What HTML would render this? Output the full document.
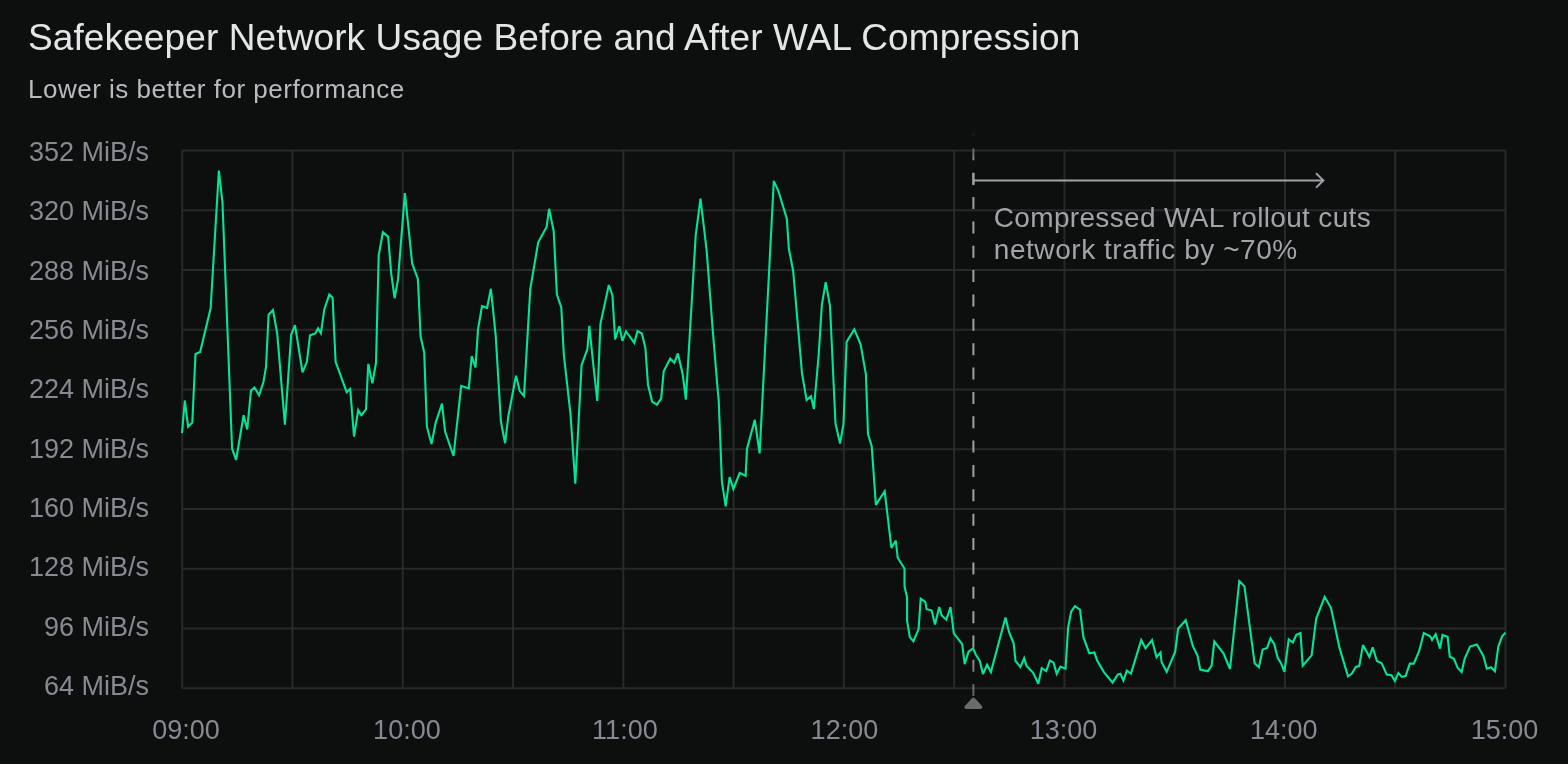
<!DOCTYPE html><html><head><meta charset="utf-8"><style>
html,body{margin:0;padding:0;background:#0d0f0f;width:1568px;height:764px;overflow:hidden}
svg{display:block;will-change:transform}text{font-family:"Liberation Sans", sans-serif}
</style></head><body>
<svg width="1568" height="764" viewBox="0 0 1568 764">
<rect width="1568" height="764" fill="#0d0f0f"/>
<path d="M182.2 150.40H1505.5M182.2 210.16H1505.5M182.2 269.91H1505.5M182.2 329.67H1505.5M182.2 389.42H1505.5M182.2 449.18H1505.5M182.2 508.93H1505.5M182.2 568.69H1505.5M182.2 628.44H1505.5M182.2 688.20H1505.5M182.20 150.4V688.2M292.47 150.4V688.2M402.75 150.4V688.2M513.02 150.4V688.2M623.30 150.4V688.2M733.58 150.4V688.2M843.85 150.4V688.2M954.12 150.4V688.2M1064.40 150.4V688.2M1174.67 150.4V688.2M1284.95 150.4V688.2M1395.22 150.4V688.2M1505.50 150.4V688.2" stroke="#28292b" stroke-width="2" fill="none"/>
<text x="28" y="50" font-size="37" letter-spacing="0.11" fill="#e4e5e7">Safekeeper Network Usage Before and After WAL Compression</text>
<text x="28" y="98" font-size="26" letter-spacing="0.5" fill="#babbc0">Lower is better for performance</text>
<text x="149" y="160.8" font-size="27" letter-spacing="0" text-anchor="end" fill="#868a92">352 MiB/s</text>
<text x="149" y="220.1" font-size="27" letter-spacing="0" text-anchor="end" fill="#868a92">320 MiB/s</text>
<text x="149" y="279.5" font-size="27" letter-spacing="0" text-anchor="end" fill="#868a92">288 MiB/s</text>
<text x="149" y="338.8" font-size="27" letter-spacing="0" text-anchor="end" fill="#868a92">256 MiB/s</text>
<text x="149" y="398.2" font-size="27" letter-spacing="0" text-anchor="end" fill="#868a92">224 MiB/s</text>
<text x="149" y="457.5" font-size="27" letter-spacing="0" text-anchor="end" fill="#868a92">192 MiB/s</text>
<text x="149" y="516.8" font-size="27" letter-spacing="0" text-anchor="end" fill="#868a92">160 MiB/s</text>
<text x="149" y="576.2" font-size="27" letter-spacing="0" text-anchor="end" fill="#868a92">128 MiB/s</text>
<text x="149" y="635.5" font-size="27" letter-spacing="0" text-anchor="end" fill="#868a92">96 MiB/s</text>
<text x="149" y="694.9" font-size="27" letter-spacing="0" text-anchor="end" fill="#868a92">64 MiB/s</text>
<text x="186.1" y="738.8" font-size="27" letter-spacing="0" text-anchor="middle" fill="#868a92">09:00</text>
<text x="406.9" y="738.8" font-size="27" letter-spacing="0" text-anchor="middle" fill="#868a92">10:00</text>
<text x="624.9" y="738.8" font-size="27" letter-spacing="0" text-anchor="middle" fill="#868a92">11:00</text>
<text x="844.4" y="738.8" font-size="27" letter-spacing="0" text-anchor="middle" fill="#868a92">12:00</text>
<text x="1063.6" y="738.8" font-size="27" letter-spacing="0" text-anchor="middle" fill="#868a92">13:00</text>
<text x="1283.8" y="738.8" font-size="27" letter-spacing="0" text-anchor="middle" fill="#868a92">14:00</text>
<text x="1504.5" y="738.8" font-size="27" letter-spacing="0" text-anchor="middle" fill="#868a92">15:00</text>
<path d="M182.0 433.0 L184.8 400.5 L188.1 426.7 L192.3 422.5 L195.5 354.0 L200.1 351.9 L210.6 308.6 L218.9 170.5 L222.5 202.9 L232.1 448.7 L236.1 460.0 L243.6 415.2 L247.2 429.4 L251.0 390.5 L254.5 387.5 L259.1 395.3 L263.5 381.7 L266.0 367.0 L268.6 314.7 L273.0 310.0 L277.2 333.5 L284.9 424.6 L291.2 334.6 L295.0 325.1 L302.5 372.3 L306.9 361.8 L310.0 335.2 L315.3 333.5 L318.0 328.3 L320.9 333.1 L324.3 309.4 L329.3 294.4 L332.6 297.8 L335.6 361.8 L346.7 392.1 L350.2 389.0 L354.0 436.5 L358.2 410.0 L361.3 415.2 L366.0 409.3 L368.3 363.9 L372.4 383.4 L376.0 362.8 L378.7 255.3 L382.9 232.3 L388.1 236.6 L391.3 274.1 L394.6 298.2 L398.0 279.4 L404.9 193.1 L412.2 263.7 L417.9 279.0 L420.6 336.6 L424.2 352.4 L426.9 426.7 L431.5 444.1 L435.7 422.5 L442.0 403.7 L445.1 431.5 L453.5 456.0 L461.2 385.9 L468.8 388.4 L471.7 356.1 L475.5 367.4 L478.0 329.3 L482.0 306.2 L487.1 307.8 L490.9 288.8 L495.7 335.6 L500.9 421.5 L505.1 443.2 L508.3 416.2 L516.0 375.8 L519.8 391.1 L524.0 395.9 L530.3 288.8 L538.2 242.3 L546.6 227.0 L549.1 208.8 L553.7 231.2 L556.9 294.5 L561.3 307.5 L563.8 354.5 L570.5 414.1 L575.3 483.8 L581.6 364.9 L587.4 349.2 L589.3 325.8 L593.1 362.8 L597.3 400.9 L600.4 324.1 L608.8 285.0 L612.4 295.1 L615.1 339.4 L619.3 326.2 L622.4 340.8 L626.0 331.4 L634.3 342.9 L637.5 331.0 L641.9 333.5 L645.4 348.2 L648.0 384.8 L652.1 401.6 L657.0 404.7 L661.2 398.4 L663.7 371.2 L670.2 358.6 L674.3 362.8 L677.9 353.4 L682.7 374.3 L685.9 399.5 L695.7 235.4 L700.5 198.7 L706.6 250.0 L712.5 327.2 L717.7 390.0 L718.7 400.0 L721.9 481.7 L725.7 506.4 L729.6 477.1 L733.4 489.0 L739.7 472.9 L745.6 475.8 L747.0 448.6 L754.8 419.9 L759.6 453.4 L773.8 180.9 L778.4 191.0 L786.8 218.6 L788.9 249.0 L793.1 270.5 L795.7 300.0 L802.0 373.3 L806.6 400.1 L811.0 396.3 L813.9 408.9 L818.7 354.5 L821.9 304.5 L825.7 282.1 L830.0 306.0 L835.5 423.6 L840.1 443.5 L843.5 423.6 L846.6 341.9 L854.3 329.3 L860.6 344.4 L865.9 374.3 L868.0 434.0 L871.7 446.2 L875.9 504.9 L884.7 491.3 L891.4 547.9 L895.8 540.5 L897.7 557.7 L904.5 568.5 L904.5 586.2 L907.1 597.7 L907.1 620.7 L909.8 637.1 L913.4 641.3 L918.6 629.1 L920.7 598.7 L925.3 601.9 L926.6 609.2 L931.6 610.3 L935.0 624.5 L939.2 607.1 L941.7 615.5 L946.3 619.7 L950.5 607.1 L953.8 633.3 L962.2 644.2 L964.7 664.1 L968.5 651.7 L973.1 648.4 L975.6 654.2 L979.8 660.9 L982.9 674.1 L987.1 664.7 L990.9 672.0 L1005.5 617.6 L1009.0 632.0 L1013.7 643.5 L1015.5 661.0 L1020.4 667.0 L1024.2 658.1 L1026.4 665.6 L1033.2 672.9 L1038.3 683.7 L1041.7 668.2 L1046.3 671.2 L1049.9 660.5 L1053.6 662.7 L1056.7 673.8 L1060.4 666.6 L1065.5 668.7 L1068.1 627.9 L1071.1 611.7 L1074.9 606.2 L1080.0 609.5 L1083.4 637.2 L1089.3 653.4 L1094.4 652.5 L1097.0 660.2 L1103.8 671.8 L1112.6 682.6 L1117.7 674.6 L1120.5 673.8 L1123.4 680.6 L1126.8 670.7 L1131.0 673.5 L1141.2 640.1 L1145.5 648.3 L1152.0 640.1 L1156.5 657.1 L1160.5 652.5 L1161.6 662.2 L1166.7 671.8 L1175.2 651.7 L1178.1 628.7 L1185.7 620.2 L1192.9 646.2 L1197.6 655.9 L1200.2 669.5 L1207.9 671.2 L1211.6 665.6 L1214.3 641.5 L1223.5 653.4 L1230.0 669.0 L1239.3 581.1 L1244.4 586.2 L1254.6 663.2 L1258.9 667.3 L1262.6 649.6 L1267.1 647.9 L1270.5 638.4 L1274.2 644.0 L1277.6 657.6 L1281.0 663.2 L1284.4 671.8 L1288.7 639.4 L1292.9 642.3 L1296.3 634.7 L1300.5 633.0 L1302.7 665.6 L1311.6 655.4 L1316.2 618.5 L1324.7 596.9 L1331.0 607.8 L1339.5 647.9 L1348.0 676.3 L1351.9 673.5 L1355.8 667.0 L1359.2 666.1 L1363.0 644.9 L1369.4 656.8 L1372.7 647.4 L1376.9 661.0 L1381.7 663.2 L1386.8 674.6 L1391.5 675.2 L1394.9 680.9 L1398.4 672.9 L1401.8 676.9 L1405.7 675.8 L1409.8 663.6 L1413.8 663.6 L1419.1 651.2 L1423.8 633.0 L1430.2 636.2 L1432.0 639.8 L1435.7 634.3 L1440.0 648.6 L1442.5 635.0 L1447.6 636.7 L1449.8 656.8 L1454.0 658.8 L1457.6 667.8 L1461.6 672.1 L1464.7 658.5 L1470.1 646.6 L1476.9 644.5 L1483.4 655.9 L1486.8 668.7 L1491.0 667.3 L1494.9 671.2 L1498.3 646.6 L1502.1 636.4 L1505.5 632.6" stroke="#00e599" stroke-width="2.1" fill="none" stroke-linejoin="miter" stroke-miterlimit="3"/>
<defs><linearGradient id="dg" gradientUnits="userSpaceOnUse" x1="0" y1="131" x2="0" y2="696"><stop offset="0" stop-color="#a0a1a6" stop-opacity="0"/><stop offset="0.062" stop-color="#a0a1a6" stop-opacity="1"/><stop offset="0.9" stop-color="#a0a1a6" stop-opacity="1"/><stop offset="1" stop-color="#a0a1a6" stop-opacity="0.55"/></linearGradient></defs>
<path d="M973.4 123.94V696" stroke="url(#dg)" stroke-width="2" stroke-dasharray="12 12.36"/>
<path d="M973.4 172.9V184.9M973.4 180.4H1323.2M1316 173.2L1323.4 180.4L1316 187.6" stroke="#a0a1a6" stroke-width="2" fill="none"/>
<text font-size="28" letter-spacing="0.33" fill="#a3a4a9" x="993.8" y="226.5">Compressed WAL rollout cuts</text>
<text font-size="28" letter-spacing="0.55" fill="#a3a4a9" x="993.8" y="258.6">network traffic by ~70%</text>
<path d="M973.4 699.3L980.6 707.2H966.2Z" fill="#6a6b6f" stroke="#6a6b6f" stroke-width="3.6" stroke-linejoin="round"/>
</svg></body></html>
